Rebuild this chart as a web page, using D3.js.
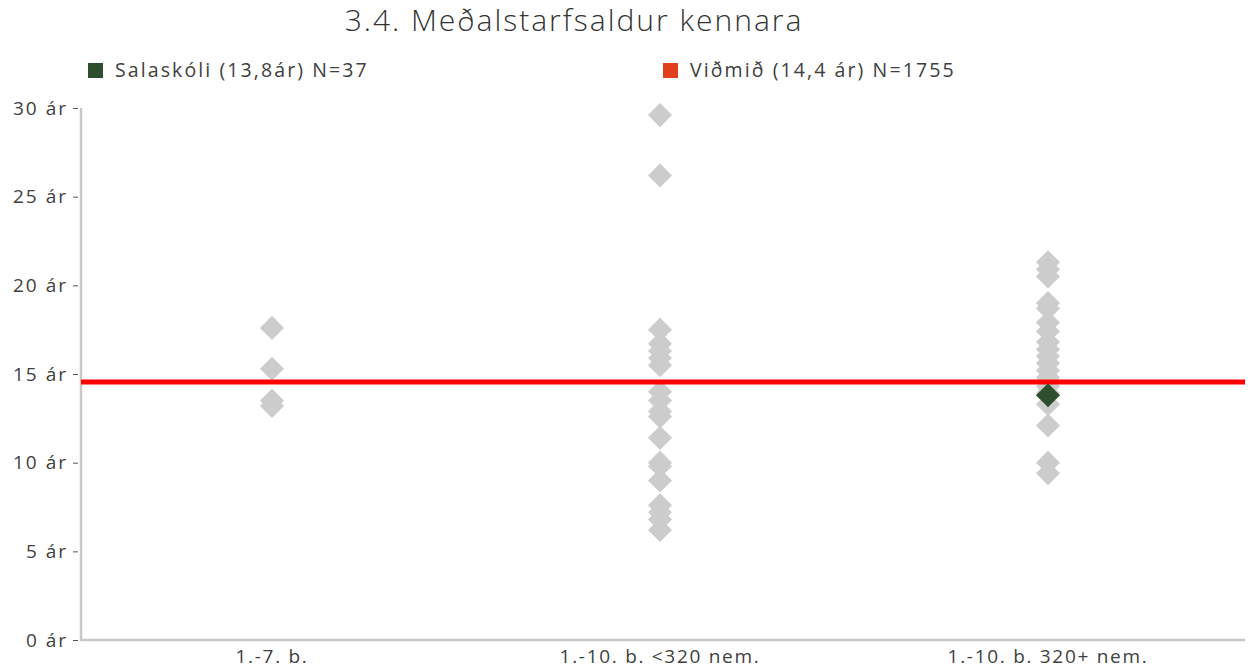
<!DOCTYPE html>
<html>
<head>
<meta charset="utf-8">
<script src="https://cdn.jsdelivr.net/npm/d3@7"></script>
<style>
  html, body { margin: 0; padding: 0; background: #fff; }
  svg { display: block; }
  text { font-family: "Open Sans", "Noto Sans", sans-serif; fill: #404040; }
</style>
</head>
<body>
<svg id="chart" width="1255" height="670"></svg>
<script>
// ---- data ----
const categories = ["1.-7. b.", "1.-10. b. <320 nem.", "1.-10. b. 320+ nem."];
const otherSchools1 = [17.6, 15.3, 13.5, 13.2];
const otherSchools2 = [29.6, 26.2, 17.5, 16.7, 16.3, 15.9, 15.5, 14.0, 13.5, 12.9, 12.6, 11.4, 10.0, 9.8, 9.0, 7.6, 7.2, 6.8, 6.2];
const otherSchools3 = [21.3, 20.9, 20.5, 19.0, 18.7, 17.9, 17.4, 16.8, 16.4, 16.0, 15.6, 15.2, 14.8, 14.3, 13.9, 13.3, 12.1, 10.0, 9.4];
const schoolCategory = "1.-10. b. 320+ nem.";
const schoolValue = 13.8;
const benchmarkValue = 14.55;
const yTicks = [0, 5, 10, 15, 20, 25, 30];
const yTickLabels = ["0 ár", "5 ár", "10 ár", "15 ár", "20 ár", "25 ár", "30 ár"];
const title = "3.4. Meðalstarfsaldur kennara";
const legendLabels = ["Salaskóli (13,8ár) N=37", "Viðmið (14,4 ár) N=1755"];

(function () {
// ---- layout ----
const svg = d3.select("#chart");
const mLeft = 81, mRight = 1245, mTop = 108, mBottom = 640;
const gray = "#cccccc", green = "#2d4f2d", red = "#ff0000", legendRed = "#e2401c";

const x = d3.scaleBand().domain(categories).range([mLeft, mRight]);
const y = d3.scaleLinear().domain([0, 30]).range([mBottom, mTop]);

// title
svg.append("text").attr("x", 574).attr("y", 31).attr("text-anchor", "middle")
  .style("font-size", "30px").style("font-weight", 300).style("letter-spacing", "2px")
  .style("fill", "#333").text(title);

// legend
const legend = [
  {label: legendLabels[0], color: green, x: 88},
  {label: legendLabels[1], color: legendRed, x: 663}
];
legend.forEach(l => {
  svg.append("rect").attr("x", l.x).attr("y", 63).attr("width", 15).attr("height", 15).attr("fill", l.color);
  svg.append("text").attr("x", l.x + 27).attr("y", 77).style("font-size", "19.5px")
    .style("letter-spacing", "2.1px").text(l.label);
});

// y axis
const yAxis = d3.axisLeft(y).tickValues(yTicks).tickSize(5).tickPadding(5)
  .tickFormat((d, i) => yTickLabels[i]);
const gy = svg.append("g").attr("transform", `translate(${mLeft - 3},0)`).call(yAxis);
gy.select(".domain").remove();
gy.selectAll(".tick line").attr("stroke", "#555");
gy.selectAll(".tick text").style("font-size", "19px").style("fill", "#404040")
  .style("font-family", "'Open Sans', sans-serif").style("letter-spacing", "2px");
svg.append("line").attr("x1", mLeft).attr("x2", mLeft).attr("y1", mTop).attr("y2", mBottom + 1)
  .attr("stroke", "#c8c8c8").attr("stroke-width", 2.5);

// x axis
const xAxis = d3.axisBottom(x).tickSize(0).tickPadding(10);
const gx = svg.append("g").attr("transform", `translate(-3,${mBottom})`).call(xAxis);
gx.select(".domain").remove();
gx.selectAll(".tick text").style("font-size", "19px").style("fill", "#404040")
  .style("font-family", "'Open Sans', sans-serif").style("letter-spacing", "1.7px");
svg.append("line").attr("x1", mLeft).attr("x2", mRight).attr("y1", mBottom).attr("y2", mBottom)
  .attr("stroke", "#c8c8c8").attr("stroke-width", 2.5);

// points
const points = [];
[otherSchools1, otherSchools2, otherSchools3].forEach((arr, i) => {
  arr.forEach(v => points.push({cat: categories[i], v}));
});
const diamond = d3.symbol().type(d3.symbolSquare).size(290);
const cx = c => x(c) + x.bandwidth() / 2 - 3;
svg.append("g").selectAll("path").data(points).join("path")
  .attr("d", diamond)
  .attr("transform", d => `translate(${cx(d.cat)},${y(d.v)}) rotate(45)`)
  .attr("fill", gray);

// benchmark line
svg.append("line").attr("x1", mLeft).attr("x2", mRight)
  .attr("y1", y(benchmarkValue)).attr("y2", y(benchmarkValue))
  .attr("stroke", red).attr("stroke-width", 5);

// school point
svg.append("path").attr("d", diamond)
  .attr("transform", `translate(${cx(schoolCategory)},${y(schoolValue)}) rotate(45)`)
  .attr("fill", green);
})();
</script>
</body>
</html>
